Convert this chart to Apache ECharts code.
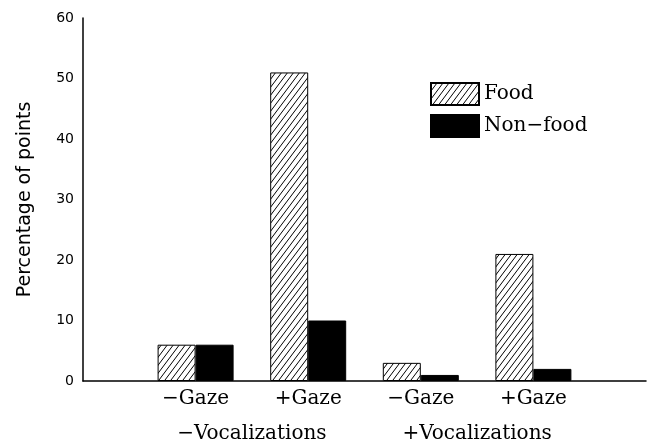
<!DOCTYPE html>
<html lang="en">

<head>
    <title></title>
    <meta charset="UTF-8">
    <script src="https://cdn.jsdelivr.net/npm/echarts@6/dist/echarts.min.js"></script>
</head>
<style>
    body {
        margin: 0;
        padding: 0;
        background: #fff;
    }
</style>

<body>
    <div id="main" style="width: 651px;height:444px;"></div>

    <script type="text/javascript">
        // data
        var categories = ['−Gaze', '+Gaze', '−Gaze', '+Gaze'];
        var groups = ['', '−Vocalizations', '', '+Vocalizations', ''];
        var food = [6, 51, 3, 21];
        var nonFood = [6, 10, 1, 2];
        var yTicks = [0, 10, 20, 30, 40, 50, 60];

        // hatch pattern for the food bars
        var tile = document.createElement('canvas');
        tile.width = 6;
        tile.height = 8;
        var ctx = tile.getContext('2d');
        ctx.fillStyle = '#fff';
        ctx.fillRect(0, 0, 6, 8);
        ctx.strokeStyle = '#000';
        ctx.lineWidth = 1;
        ctx.beginPath();
        ctx.moveTo(-6, 8); ctx.lineTo(0, 0);
        ctx.moveTo(0, 8); ctx.lineTo(6, 0);
        ctx.moveTo(6, 8); ctx.lineTo(12, 0);
        ctx.stroke();
        var hatch = { image: tile, repeat: 'repeat' };

        // empty slot on each end of the axis
        var axisData = [''].concat(categories, ['']);
        var foodData = ['-'].concat(food, ['-']);
        var nonFoodData = ['-'].concat(nonFood, ['-']);

        var serif = 'DejaVu Serif';
        var myChart = echarts.init(document.getElementById('main'));

        option = {
            backgroundColor: '#fff',
            animation: false,
            grid: {
                left: 83,
                right: 5,
                top: 18,
                bottom: 62
            },
            legend: {
                orient: 'vertical',
                left: 430,
                top: 82,
                padding: 0,
                itemWidth: 48,
                itemHeight: 22,
                itemGap: 8,
                icon: 'rect',
                data: ['Food', 'Non−food'],
                textStyle: {
                    fontFamily: serif,
                    fontSize: 20,
                    color: '#000'
                }
            },
            xAxis: [{
                type: 'category',
                data: axisData,
                boundaryGap: false,
                axisLine: { lineStyle: { color: '#000', width: 1.5 } },
                axisTick: { show: false },
                axisLabel: {
                    interval: 0,
                    margin: 8,
                    color: '#000',
                    fontFamily: serif,
                    fontSize: 20
                }
            }, {
                type: 'category',
                data: groups,
                position: 'bottom',
                boundaryGap: true,
                axisLine: { show: false },
                axisTick: { show: false },
                axisLabel: {
                    interval: 0,
                    margin: 43,
                    color: '#000',
                    fontFamily: serif,
                    fontSize: 20
                }
            }],
            yAxis: {
                type: 'value',
                min: yTicks[0],
                max: yTicks[yTicks.length - 1],
                interval: 10,
                name: 'Percentage of points',
                nameLocation: 'middle',
                nameGap: 48,
                nameTextStyle: {
                    fontFamily: 'DejaVu Sans',
                    fontSize: 19,
                    color: '#000'
                },
                axisLine: { show: true, lineStyle: { color: '#000', width: 1.5 } },
                axisTick: { show: false },
                splitLine: { show: false },
                axisLabel: {
                    margin: 9,
                    color: '#000',
                    fontFamily: 'DejaVu Sans',
                    fontSize: 14
                }
            },
            series: [{
                name: 'Food',
                type: 'bar',
                barWidth: 38,
                barGap: '0%',
                itemStyle: {
                    color: hatch,
                    borderColor: '#000',
                    borderWidth: 1
                },
                data: foodData
            }, {
                name: 'Non−food',
                type: 'bar',
                barWidth: 38,
                barGap: '0%',
                itemStyle: {
                    color: '#000',
                    borderColor: '#000',
                    borderWidth: 1
                },
                data: nonFoodData
            }]
        };
        myChart.setOption(option);
    </script>
</body>

</html>
